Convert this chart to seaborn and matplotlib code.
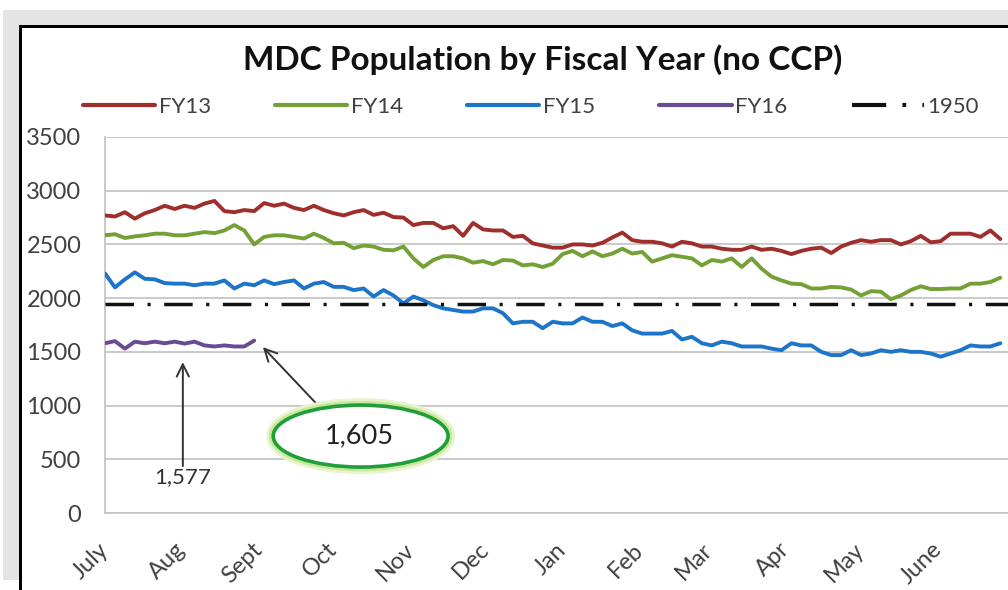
import numpy as np
import pandas as pd
import seaborn as sns
import matplotlib.pyplot as plt
from matplotlib.patches import Ellipse, Rectangle
from matplotlib.lines import Line2D

# ---------------- data ----------------
DAYS = list(range(0, 361, 4))  # day of fiscal year (July 1 = 0)

FY13 = [2770, 2760, 2800, 2740, 2790, 2820, 2860, 2830, 2860, 2840, 2880, 2905,
        2810, 2800, 2820, 2810, 2885, 2860, 2880, 2840, 2820, 2860, 2820, 2790,
        2770, 2800, 2820, 2775, 2795, 2755, 2750, 2680, 2700, 2700, 2650, 2670,
        2580, 2700, 2640, 2630, 2630, 2570, 2580, 2510, 2490, 2470, 2470,
        2500, 2500, 2490, 2515, 2565, 2610, 2540, 2525, 2525, 2510, 2480, 2525,
        2510, 2480, 2480, 2460, 2450, 2450, 2480, 2450, 2460, 2440, 2410,
        2440, 2460, 2470, 2420, 2480, 2515, 2540, 2525, 2540, 2540, 2500, 2530,
        2580, 2520, 2530, 2600, 2600, 2600, 2570, 2630, 2550]

FY14 = [2585, 2595, 2560, 2575, 2585, 2600, 2600, 2585, 2585, 2600, 2615, 2605,
        2630, 2680, 2630, 2500, 2570, 2585, 2585, 2570, 2555, 2600, 2560, 2510,
        2515, 2465, 2490, 2480, 2450, 2445, 2480, 2370, 2290, 2355, 2390, 2390,
        2370, 2330, 2345, 2315, 2355, 2350, 2305, 2315, 2290, 2320, 2410,
        2440, 2390, 2435, 2390, 2415, 2460, 2415, 2430, 2340, 2370, 2400, 2385,
        2370, 2305, 2355, 2340, 2370, 2290, 2370, 2275, 2200, 2165, 2135,
        2130, 2090, 2090, 2105, 2100, 2080, 2025, 2065, 2060, 1990, 2025, 2075,
        2110, 2085, 2085, 2090, 2090, 2135, 2135, 2150, 2190]

FY15 = [2230, 2100, 2175, 2240, 2180, 2175, 2140, 2135, 2135, 2120, 2135, 2135,
        2165, 2090, 2135, 2120, 2165, 2130, 2150, 2165, 2090, 2135, 2150, 2105,
        2105, 2075, 2090, 2015, 2075, 2025, 1950, 2015, 1980, 1935, 1905, 1890,
        1875, 1875, 1905, 1905, 1860, 1765, 1780, 1780, 1720, 1780, 1765,
        1765, 1820, 1780, 1780, 1740, 1765, 1700, 1670, 1670, 1670, 1695, 1615,
        1640, 1580, 1560, 1595, 1580, 1550, 1550, 1550, 1530, 1515, 1580,
        1560, 1560, 1500, 1470, 1470, 1515, 1470, 1485, 1515, 1500, 1515, 1500,
        1500, 1485, 1455, 1485, 1515, 1560, 1550, 1550, 1580]

FY16 = [1580, 1600, 1530, 1595, 1580, 1595, 1580, 1595, 1577, 1595, 1560, 1550,
        1560, 1550, 1550, 1605]

SERIES = ["FY13", "FY14", "FY15", "FY16"]
COLORS = ["#9E2F2C", "#74A036", "#1C75C9", "#6A4A93"]
THRESHOLD = 1950

MONTHS = ["July", "Aug", "Sept", "Oct", "Nov", "Dec", "Jan", "Feb", "Mar",
          "Apr", "May", "June"]
MONTH_DAYS = [0, 31, 62, 92, 123, 153, 184, 215, 243, 274, 304, 335]
Y_TICKS = [0, 500, 1000, 1500, 2000, 2500, 3000, 3500]

NOTE_A_TEXT = "1,577"
NOTE_A_DAY = 31.3
NOTE_B_TEXT = f"{FY16[-1]:,}"

TITLE = "MDC Population by Fiscal Year (no CCP)"

# ---------------- frame ----------------
sns.set_theme(style="white")
plt.rcParams["font.family"] = ["Lato", "DejaVu Sans"]

W, H = 1008, 590
fig = plt.figure(figsize=(W / 100, H / 100), dpi=100)
fig.patch.set_facecolor("white")


def px_rect(x0, y0, x1, y1, color, z=1):
    """rectangle in pixel coords measured from the top-left corner"""
    r = Rectangle((x0 / W, 1 - y1 / H), (x1 - x0) / W, (y1 - y0) / H,
                  transform=fig.transFigure, facecolor=color, edgecolor="none",
                  zorder=z)
    fig.patches.append(r)


px_rect(3, 10, W, 25, "#e4e4e4")
px_rect(3, 10, 19, 580, "#e4e4e4")
px_rect(19, 25, W, 28, "#000000", 2)
px_rect(19, 25, 22, H, "#000000", 2)

ax = fig.add_axes([105 / W, 77 / H, (W - 105) / W, 376 / H])
ax.set_facecolor("white")

# ---------------- data lines ----------------
frames = []
for name, vals in zip(SERIES, [FY13, FY14, FY15, FY16]):
    frames.append(pd.DataFrame({"day": DAYS[:len(vals)], "value": vals,
                                "series": name}))
df = pd.concat(frames, ignore_index=True)

sns.lineplot(data=df, x="day", y="value", hue="series", hue_order=SERIES,
             palette=dict(zip(SERIES, COLORS)), linewidth=2.8, ax=ax,
             legend=False, zorder=3)

dash = (0, (8.2, 3.9, 0.9, 3.9))
ax.axhline(THRESHOLD, color="#111111", linewidth=2.5, linestyle=dash, zorder=4)

# ---------------- axes styling ----------------
ax.set_xlim(0, (W - 105) / 2.487)
ax.set_ylim(0, 3500)
ax.set_yticks(Y_TICKS)
ax.set_xticks(MONTH_DAYS)
ax.set_xticklabels(MONTHS, rotation=45, ha="right", va="center",
                   rotation_mode="anchor")
ax.tick_params(axis="both", length=0, labelsize=17, labelcolor="#404040")
ax.tick_params(axis="y", pad=17)
ax.tick_params(axis="x", pad=24)
ax.yaxis.grid(True, color="#c6c6c6", linewidth=1.3)
ax.set_axisbelow(True)
for s in ["top", "right"]:
    ax.spines[s].set_visible(False)
for s in ["left", "bottom"]:
    ax.spines[s].set_color("#c6c6c6")
    ax.spines[s].set_linewidth(1.3)
ax.set_xlabel("")
ax.set_ylabel("")

# ---------------- title & legend ----------------
fig.text(543 / W, 1 - 70 / H, TITLE, ha="center", va="baseline",
         fontsize=24, fontweight="bold", color="#111111")

handles = [Line2D([], [], color=c, linewidth=3) for c in COLORS]
handles.append(Line2D([], [], color="#111111", linewidth=3, linestyle=dash))
labels = SERIES + [str(THRESHOLD)]
fig.legend(handles, labels, loc="center left",
           bbox_to_anchor=(83 / W, 1 - 107 / H), bbox_transform=fig.transFigure,
           ncol=5, frameon=False, fontsize=16, handlelength=3.25,
           handletextpad=0.15, columnspacing=2.9, borderpad=0,
           borderaxespad=0, labelcolor="#404040")

# ---------------- annotations ----------------
arrow = dict(arrowstyle="->", color="#333333", lw=1.4, mutation_scale=22,
             shrinkA=0, shrinkB=0)
ax.annotate("", xy=(NOTE_A_DAY, 1404), xytext=(NOTE_A_DAY, 437),
            arrowprops=arrow, zorder=5)
ax.text(NOTE_A_DAY, 335, NOTE_A_TEXT, ha="center", va="center", fontsize=16,
        color="#333333", zorder=5)

ax.annotate("", xy=(63.5, 1544), xytext=(86.3, 986), arrowprops=arrow,
            zorder=5)
for lw, col in [(10, "#e6f4cf"), (6, "#c9e79a")]:
    ax.add_patch(Ellipse((102.8, 716), 70.3, 577, facecolor="none",
                         edgecolor=col, linewidth=lw, zorder=5))
ax.add_patch(Ellipse((102.8, 716), 70.3, 577, facecolor="white",
                     edgecolor="#1f9e3a", linewidth=2.6, zorder=6))
ax.text(102.4, 716, NOTE_B_TEXT, ha="center", va="center", fontsize=19.5,
        color="#222222", zorder=7)

fig.savefig("out.png", dpi=100)
